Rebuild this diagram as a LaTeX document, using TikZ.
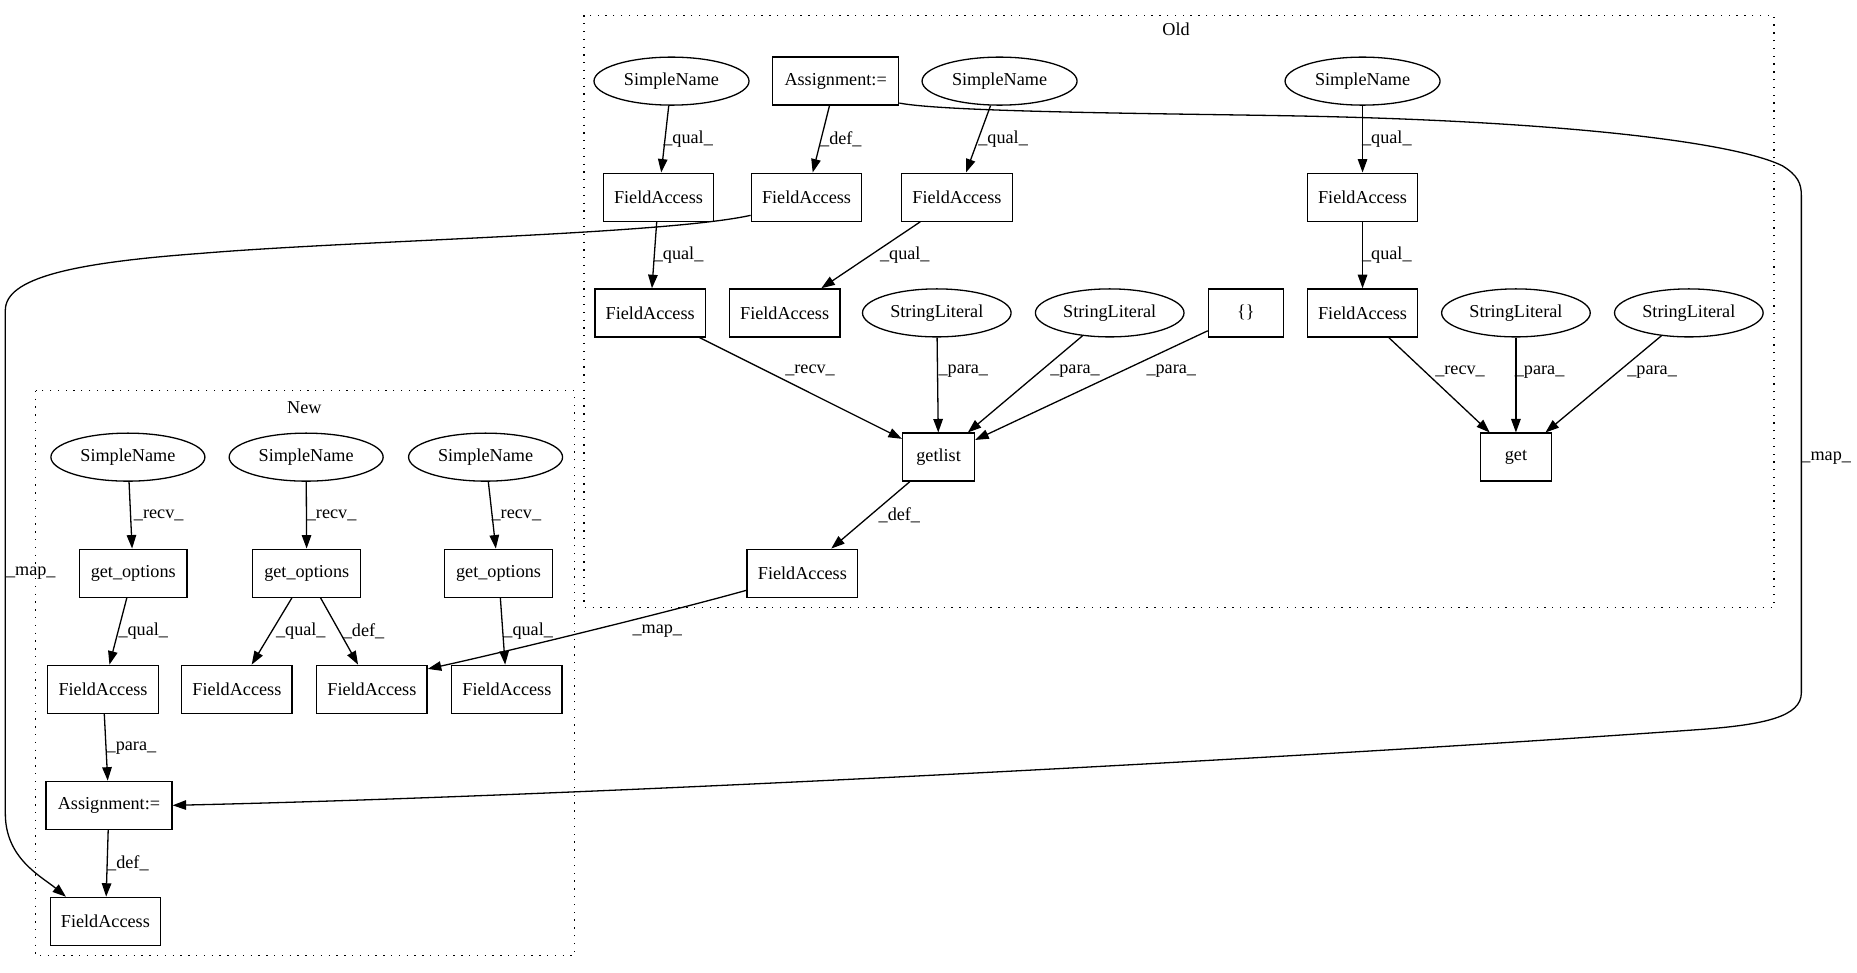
\documentclass[tikz,border=0pt]{standalone}
\usepackage{fontspec}
\setmainfont{Liberation Serif}
\usetikzlibrary{arrows.meta,shapes.geometric}
\begin{document}
\begin{tikzpicture}[x=1.1843pt,y=-1.1843pt,
  every node/.style={font=\fontsize{18.2}{22}\selectfont, inner sep=0pt},
  box/.style={draw, line width=1.3pt, rectangle, minimum height=48pt, minimum width=110.5pt},
  oval/.style={draw, line width=1.3pt, ellipse, minimum height=48pt, minimum width=155pt},
  slit/.style={oval, minimum width=148.6pt},
  edge/.style={draw, line width=1.3pt, -{Triangle[length=13.5pt,width=9.5pt]}},
  lbl/.style={anchor=center},
  cluster/.style={draw, line width=1.3pt, dash pattern=on 1.3pt off 6.5pt}]
\useasboundingbox (0,0) rectangle (1568,821);

% clusters
\draw[cluster] (493,13) rectangle (1498,512.7);
\node (oldlbl) at (993,25) {Old};
\draw[cluster] (30,330) rectangle (485,807);
\node (newlbl) at (257,344) {New};

% Old nodes
\node[oval] (sn1) at (567,68.5) {SimpleName};
\node[box, minimum width=126pt] (a1) at (705.6,68.5) {Assignment:=};
\node[oval] (sn2) at (844,68.5) {SimpleName};
\node[oval] (sn3) at (1150.5,68.5) {SimpleName};
\node[box] (fa1) at (556,166.5) {FieldAccess};
\node[box] (fa2) at (681,166.5) {FieldAccess};
\node[box] (fa3) at (808,166.5) {FieldAccess};
\node[box] (fa4) at (1150.5,166.5) {FieldAccess};
\node[box] (fa5) at (549,264.2) {FieldAccess};
\node[box] (fa6) at (662.5,264.2) {FieldAccess};
\node[slit] (sl1) at (791,264.2) {StringLiteral};
\node[slit] (sl2) at (937,264.2) {StringLiteral};
\node[box, minimum width=75pt] (br) at (1052,264.2) {\{\}};
\node[box] (fa7) at (1150.5,264.2) {FieldAccess};
\node[slit] (sl3) at (1280,264.2) {StringLiteral};
\node[slit] (sl4) at (1426,264.2) {StringLiteral};
\node[box, minimum width=72pt] (getlist) at (792.5,386) {getlist};
\node[box, minimum width=71pt] (get) at (1280,386) {get};
\node[box] (fa8) at (677.5,484) {FieldAccess};

% New nodes
\node[oval, minimum width=154pt] (sn4) at (108,386) {SimpleName};
\node[oval, minimum width=154pt] (sn5) at (258.5,386) {SimpleName};
\node[oval, minimum width=154pt] (sn6) at (410,386) {SimpleName};
\node[box, minimum width=107.8pt] (go1) at (112.5,484) {get\_options};
\node[box, minimum width=107.8pt] (go2) at (259,484) {get\_options};
\node[box, minimum width=107.8pt] (go3) at (421,484) {get\_options};
\node[box] (fa9) at (87,582) {FieldAccess};
\node[box] (fa10) at (200,582) {FieldAccess};
\node[box] (fa11) at (314,582) {FieldAccess};
\node[box] (fa12) at (428,582) {FieldAccess};
\node[box, minimum width=126pt] (a2) at (92,680) {Assignment:=};
\node[box] (fa13) at (89,778) {FieldAccess};

% Old edges
\draw[edge] (sn1) -- (fa1) node[lbl] at (581,117.4) {\_qual\_};
\draw[edge] (a1) -- (fa2) node[lbl] at (710,117.4) {\_def\_};
\draw[edge] (sn2) -- (fa3) node[lbl] at (847,117.4) {\_qual\_};
\draw[edge] (sn3) -- (fa4) node[lbl] at (1171,117.4) {\_qual\_};
\draw[edge] (fa1) -- (fa5) node[lbl] at (573,215.3) {\_qual\_};
\draw[edge] (fa3) -- (fa6) node[lbl] at (764,215.3) {\_qual\_};
\draw[edge] (fa4) -- (fa7) node[lbl] at (1171,215.3) {\_qual\_};
\draw[edge] (fa5) -- (getlist) node[lbl] at (684,313) {\_recv\_};
\draw[edge] (sl1) -- (getlist) node[lbl] at (813.4,313.8) {\_para\_};
\draw[edge] (sl2) -- (getlist) node[lbl] at (907.7,313.8) {\_para\_};
\draw[edge] (br) -- (getlist) node[lbl] at (989,313.8) {\_para\_};
\draw[edge] (fa7) -- (get) node[lbl] at (1232.8,314) {\_recv\_};
\draw[edge] (sl3) -- (get) node[lbl] at (1300,314) {\_para\_};
\draw[edge] (sl4) -- (get) node[lbl] at (1395,314) {\_para\_};
\draw[edge] (getlist) -- (fa8) node[lbl] at (759.4,434.9) {\_def\_};

% New edges
\draw[edge] (sn4) -- (go1) node[lbl] at (134,435) {\_recv\_};
\draw[edge] (sn5) -- (go2) node[lbl] at (280,435) {\_recv\_};
\draw[edge] (sn6) -- (go3) node[lbl] at (436,435) {\_recv\_};
\draw[edge] (go1) -- (fa9) node[lbl] at (121,533) {\_qual\_};
\draw[edge] (go2) -- (fa10) node[lbl] at (254,533) {\_qual\_};
\draw[edge] (go2) -- (fa11) node[lbl] at (307,533) {\_def\_};
\draw[edge] (go3) -- (fa12) node[lbl] at (446,533) {\_qual\_};
\draw[edge] (fa9) -- (a2) node[lbl] at (111,632) {\_para\_};
\draw[edge] (a2) -- (fa13) node[lbl] at (108,729) {\_def\_};

% map edges
\draw[edge] (fa8.197.8) .. controls (560,518) and (420,552) .. (fa11.20)
  node[lbl] at (555,533) {\_map\_};
\draw[edge] (a1.-19) .. controls (800,95) and (1000,96) .. (1100,98)
  .. controls (1300,102) and (1460,118) .. (1505,140)
  .. controls (1518,148) and (1521,155) .. (1521,165) -- (1521,585)
  .. controls (1521,605) and (1490,612) .. (1435,616)
  .. controls (1100,640) and (500,672) .. (a2.east)
  node[lbl] at (1542,387) {\_map\_};
\draw[edge] (fa2.198.4) .. controls (560,198) and (300,203) .. (169,214)
  .. controls (60,222) and (4.5,235) .. (4.5,262) -- (4.5,687)
  .. controls (4.5,725) and (35,740) .. (fa13.148)
  node[lbl] at (26,484) {\_map\_};
\end{tikzpicture}
\end{document}
